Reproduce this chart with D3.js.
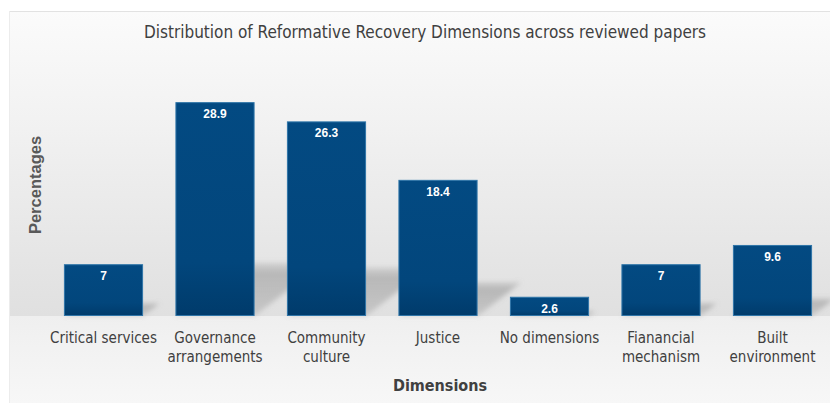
<!DOCTYPE html>
<html>
<head>
<meta charset="utf-8">
<script src="https://cdn.jsdelivr.net/npm/d3@7"></script>
<style>
  body { margin: 0; background: #fff; }
  .narrow { font-family: "Liberation Sans Narrow", "DejaVu Sans Condensed", "Liberation Sans", sans-serif; }
</style>
</head>
<body>
<svg width="830" height="403"></svg>
<script>
// data
var categories = ["Critical services", "Governance arrangements", "Community culture", "Justice",
                  "No dimensions", "Fianancial mechanism", "Built environment"];
var labelLines = [["Critical services"], ["Governance", "arrangements"], ["Community", "culture"], ["Justice"],
                  ["No dimensions"], ["Fianancial", "mechanism"], ["Built", "environment"]];
var values = [7, 28.9, 26.3, 18.4, 2.6, 7, 9.6];
var yDomain = [0, 30];

var svg = d3.select("svg"),
  baseY = 316,
  topY = 94;

var defs = svg.append("defs");

var bg = defs.append("linearGradient").attr("id", "bg").attr("x1", 0).attr("y1", 0).attr("x2", 0).attr("y2", 1);
bg.append("stop").attr("offset", "0%").attr("stop-color", "#fbfbfb");
bg.append("stop").attr("offset", "35%").attr("stop-color", "#f2f2f2");
bg.append("stop").attr("offset", "100%").attr("stop-color", "#e0e0e0");

var bg2 = defs.append("linearGradient").attr("id", "bg2").attr("x1", 0).attr("y1", 0).attr("x2", 0).attr("y2", 1);
bg2.append("stop").attr("offset", "0%").attr("stop-color", "#efefef");
bg2.append("stop").attr("offset", "100%").attr("stop-color", "#f7f7f7");

var barGrad = defs.append("linearGradient").attr("id", "barGrad").attr("x1", 0).attr("y1", 0).attr("x2", 0).attr("y2", 1);
barGrad.append("stop").attr("offset", "0%").attr("stop-color", "#034a82");
barGrad.append("stop").attr("offset", "75%").attr("stop-color", "#02467c");
barGrad.append("stop").attr("offset", "100%").attr("stop-color", "#003b6b");

var shGrad = defs.append("linearGradient").attr("id", "shGrad").attr("x1", 0).attr("y1", 1).attr("x2", 0).attr("y2", 0);
shGrad.append("stop").attr("offset", "0%").attr("stop-color", "#8c8c8c").attr("stop-opacity", 0.3);
shGrad.append("stop").attr("offset", "80%").attr("stop-color", "#8c8c8c").attr("stop-opacity", 0.5);
shGrad.append("stop").attr("offset", "100%").attr("stop-color", "#8c8c8c").attr("stop-opacity", 0.2);

defs.append("filter").attr("id", "blur").attr("x", "-50%").attr("y", "-50%").attr("width", "200%").attr("height", "200%")
  .append("feGaussianBlur").attr("stdDeviation", 2.5);

// panel
svg.append("rect").attr("x", 9).attr("y", 11).attr("width", 830).attr("height", baseY - 11)
  .attr("fill", "url(#bg)");
svg.append("rect").attr("x", 9).attr("y", baseY).attr("width", 830).attr("height", 403 - baseY)
  .attr("fill", "url(#bg2)");
svg.append("line").attr("x1", 9).attr("x2", 830).attr("y1", 11.5).attr("y2", 11.5).attr("stroke", "#e2e2e2");
svg.append("line").attr("x1", 9.5).attr("x2", 9.5).attr("y1", 11).attr("y2", 403).attr("stroke", "#ececec");

var x = d3.scaleBand()
  .domain(categories)
  .range([47.75, 828.25])
  .paddingInner(0.29)
  .paddingOuter(0.145);

var y = d3.scaleLinear()
  .domain(yDomain)
  .range([baseY, topY]);

// skewed shadows cast behind the bars
svg.append("g").attr("filter", "url(#blur)")
  .selectAll("path")
  .data(values)
  .enter().append("path")
    .attr("fill", "url(#shGrad)")
    .attr("d", function(d, i) {
      var x0 = x(categories[i]), x1 = x0 + x.bandwidth();
      var h = (baseY - y(d)) * 0.25;
      var dx = h * 1.3;
      return "M" + x0 + "," + baseY + "L" + x1 + "," + baseY +
             "L" + (x1 + dx) + "," + (baseY - h) + "L" + (x0 + dx) + "," + (baseY - h) + "Z";
    });

// bars
svg.append("g")
  .selectAll("rect")
  .data(values)
  .enter().append("rect")
    .attr("x", function(d, i) { return x(categories[i]) + 0.5; })
    .attr("y", function(d) { return y(d) + 0.5; })
    .attr("width", x.bandwidth() - 1)
    .attr("height", function(d) { return baseY - y(d) - 1; })
    .attr("fill", "url(#barGrad)")
    .attr("stroke", "#2f75a8")
    .attr("stroke-width", 1);

// value labels
svg.append("g")
  .selectAll("text")
  .data(values)
  .enter().append("text")
    .attr("x", function(d, i) { return x(categories[i]) + x.bandwidth() / 2; })
    .attr("y", function(d) { return y(d) + 16; })
    .attr("text-anchor", "middle")
    .attr("font-family", "Liberation Sans, Arial, sans-serif")
    .attr("font-weight", "bold")
    .attr("font-size", 12)
    .attr("fill", "#ffffff")
    .text(function(d) { return d; });

// category labels
var cat = svg.append("g").attr("class", "narrow")
  .selectAll("text")
  .data(labelLines)
  .enter().append("text")
    .attr("x", function(d, i) { return x(categories[i]) + x.bandwidth() / 2; })
    .attr("y", 343)
    .attr("text-anchor", "middle")
    .attr("font-size", 15)
    .attr("fill", "#404040");
cat.selectAll("tspan")
  .data(function(d) { return d; })
  .enter().append("tspan")
    .attr("x", function() { return d3.select(this.parentNode).attr("x"); })
    .attr("dy", function(d, j) { return j ? 19 : 0; })
    .text(function(d) { return d; });

// title
svg.append("text").attr("class", "narrow")
  .attr("x", 425).attr("y", 38)
  .attr("text-anchor", "middle")
  .attr("font-size", 17)
  .attr("fill", "#404040")
  .text("Distribution of Reformative Recovery Dimensions across reviewed papers");

// axis titles
svg.append("text").attr("class", "narrow")
  .attr("x", 440).attr("y", 391)
  .attr("text-anchor", "middle")
  .attr("font-size", 16)
  .attr("font-weight", "bold")
  .attr("fill", "#404040")
  .text("Dimensions");

svg.append("text")
  .attr("transform", "translate(41,185) rotate(-90)")
  .attr("text-anchor", "middle")
  .attr("font-family", "Liberation Sans, Arial, sans-serif")
  .attr("font-size", 16.5)
  .attr("font-weight", "bold")
  .attr("fill", "#595959")
  .text("Percentages");
</script>
</body>
</html>
